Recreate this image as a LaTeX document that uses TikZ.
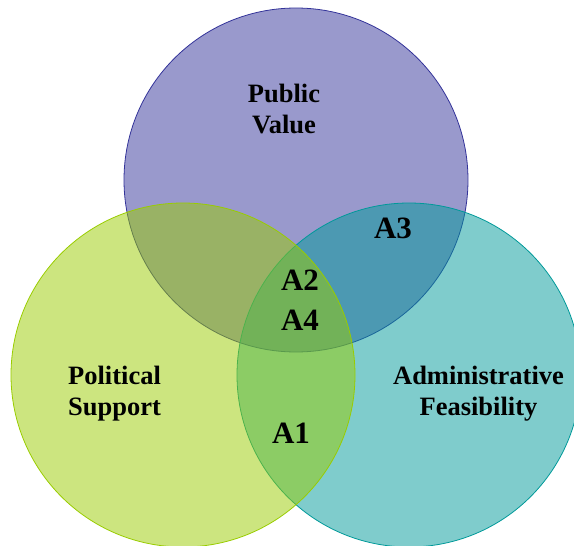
\documentclass[tikz,border=0pt]{standalone}
\usepackage{fontspec}
\setmainfont{Liberation Serif}
\definecolor{pvfill}{RGB}{51,51,153}
\definecolor{affill}{RGB}{0,153,153}
\definecolor{psfill}{RGB}{153,204,0}
\begin{document}
\begin{tikzpicture}[x=1pt,y=-1pt,
  venn/.style={circle,minimum size=344pt,inner sep=0pt,outer sep=0pt,line width=0.8pt,fill opacity=0.5,draw opacity=1},
  setname/.style={font=\bfseries\fontsize{26.5}{31}\selectfont,align=center,inner sep=0pt},
  area/.style={font=\bfseries\fontsize{31}{40}\selectfont,align=center,inner sep=0pt}]
\useasboundingbox (0,0) rectangle (574,546);
\begin{scope}
\clip (0,0) rectangle (574,546);
\node[venn,fill=pvfill,draw=pvfill] (pv) at (296,180) {};
\node[venn,fill=affill,draw=affill] (af) at (409,375) {};
\node[venn,fill=psfill,draw=psfill] (ps) at (183,375) {};
\end{scope}
\node[setname] (pvlabel) at (284,109) {Public\\Value};
\node[setname] (pslabel) at (114.5,393.5) {Political\\Support};
\node[setname] (aflabel) at (478.5,394) {Administrative\\Feasibility};
\node[area] (a3) at (393,228) {A3};
\node[area] (a24) at (300,300) {A2\\A4};
\node[area] (a1) at (291,433) {A1};
\end{tikzpicture}
\end{document}
